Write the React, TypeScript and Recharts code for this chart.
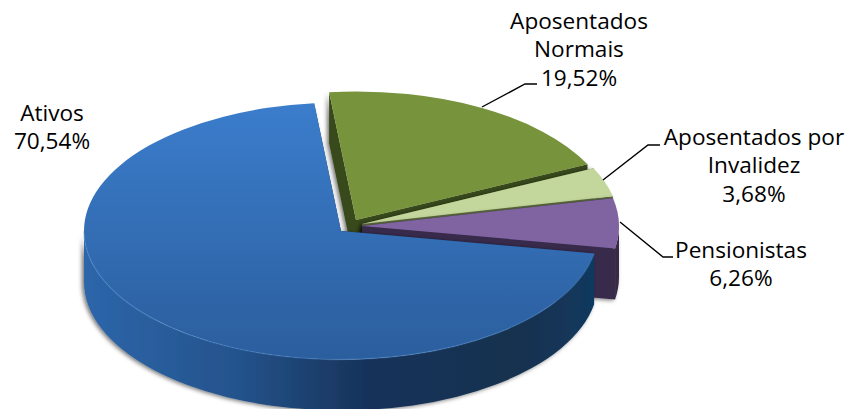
import { Pie, PieChart } from "recharts"

// slice order runs clockwise from the top, so Ativos is painted last and sits in front
const categories = ["Aposentados Normais", "Aposentados por Invalidez", "Pensionistas", "Ativos"]
const shares = [19.52, 3.68, 6.26, 70.54]

const data = categories.map((name, i) => ({ name, value: shares[i] }))

const SQUASH = 0.5
const DEPTH = 51

const looks: Record<string, any> = {
  "Aposentados Normais": { top: "#77933c", side: "#38491a", wall: "#38491a", dx: 6, dy: -5 },
  "Aposentados por Invalidez": { top: "#c3d69b", side: "#5d6b40", wall: "#5d6b40", dx: 12, dy: -1 },
  Pensionistas: { top: "#8064a2", side: "#392a4b", wall: "#382a45", dx: 12, dy: 1 },
  Ativos: { top: "url(#blueTop)", side: "#143352", wall: "url(#blueWall)", dx: -9, dy: 6 },
}

const labels: Record<string, any> = {
  "Aposentados Normais": { x: 579, y: 29, lines: ["Aposentados", "Normais"], leader: "482,107 525,84 537,84" },
  "Aposentados por Invalidez": { x: 754, y: 145, lines: ["Aposentados por", "Invalidez"], leader: "603,180 648,145 660,145" },
  Pensionistas: { x: 741, y: 258, lines: ["Pensionistas"], leader: "620,222 663,257 673,257" },
  Ativos: { x: 52, y: 121, lines: ["Ativos"], leader: "" },
}

function Slice3D(props: any) {
  const { cx, cy, outerRadius: r, startAngle, endAngle, name } = props
  const look = looks[name]
  const ox = cx + look.dx
  const oy = cy + look.dy
  const ry = r * SQUASH
  const lo = Math.min(startAngle, endAngle)
  const hi = Math.max(startAngle, endAngle)
  const pt = (deg: number, drop = 0) => {
    const a = (deg * Math.PI) / 180
    return `${ox + r * Math.cos(a)} ${oy - ry * Math.sin(a) + drop}`
  }
  const arc = (from: number, to: number, sweep: number, drop = 0) =>
    `A ${r} ${ry} 0 ${Math.abs(to - from) > 180 ? 1 : 0} ${sweep} ${pt(to, drop)}`

  const faces = [lo, hi].map((deg) => `M ${ox} ${oy} L ${pt(deg)} L ${pt(deg, DEPTH)} L ${ox} ${oy + DEPTH} Z`)

  // only the front half of the rim can be seen
  const wallFrom = Math.max(lo, -180)
  const wallTo = Math.min(hi, 0)
  const hasWall = wallTo > wallFrom

  return (
    <g>
      <g filter="url(#softShadow)">
        {faces.map((d, i) => (
          <path key={i} d={d} fill={look.side} />
        ))}
        {hasWall && (
          <path
            d={`M ${pt(wallFrom)} ${arc(wallFrom, wallTo, 0)} L ${pt(wallTo, DEPTH)} ${arc(wallTo, wallFrom, 1, DEPTH)} Z`}
            fill={look.wall}
          />
        )}
      </g>
      <path d={`M ${ox} ${oy} L ${pt(lo)} ${arc(lo, hi, 0)} Z`} fill={look.top} />
      {hasWall && name === "Ativos" && (
        <path d={`M ${pt(wallFrom)} ${arc(wallFrom, wallTo, 0)}`} fill="none" stroke="#4a86cc" strokeWidth={1.5} opacity={0.4} />
      )}
    </g>
  )
}

function SliceLabel(props: any) {
  const { name, value } = props
  const spec = labels[name]
  const rows = [...spec.lines, `${value.toFixed(2).replace(".", ",")}%`]
  return (
    <g>
      {spec.leader && <polyline points={spec.leader} fill="none" stroke="#000000" strokeWidth={1.4} />}
      <text x={spec.x} y={spec.y} textAnchor="middle" fontFamily="'Open Sans', sans-serif" fontSize={22.6} fill="#000000">
        {rows.map((row: string, i: number) => (
          <tspan key={i} x={spec.x} dy={i === 0 ? 0 : 28.3}>
            {row}
          </tspan>
        ))}
      </text>
    </g>
  )
}

export default function App() {
  return (
    <div style={{ position: "absolute", left: 0, top: 0 }}>
      <PieChart width={849} height={409} margin={{ top: 0, right: 0, bottom: 0, left: 0 }}>
        <defs>
          <linearGradient id="blueTop" x1="0" y1="0" x2="0" y2="1">
            <stop offset="0%" stopColor="#3b7dcc" />
            <stop offset="100%" stopColor="#2b5e9d" />
          </linearGradient>
          <linearGradient id="blueWall" x1="0" y1="0" x2="1" y2="0">
            <stop offset="0%" stopColor="#2d66aa" />
            <stop offset="30%" stopColor="#24538c" />
            <stop offset="55%" stopColor="#17335a" />
            <stop offset="85%" stopColor="#14304f" />
            <stop offset="100%" stopColor="#113a5e" />
          </linearGradient>
          <filter id="softShadow" x="-10%" y="-10%" width="120%" height="120%">
            <feDropShadow dx={-2} dy={1} stdDeviation={2} floodColor="#000000" floodOpacity={0.55} />
          </filter>
        </defs>
        <Pie
          data={data}
          dataKey="value"
          nameKey="name"
          cx={350}
          cy={225}
          innerRadius={0}
          outerRadius={257}
          startAngle={96}
          endAngle={-264}
          paddingAngle={0}
          stroke="none"
          shape={Slice3D}
          label={SliceLabel}
          labelLine={false}
          isAnimationActive={false}
        />
      </PieChart>
    </div>
  )
}
